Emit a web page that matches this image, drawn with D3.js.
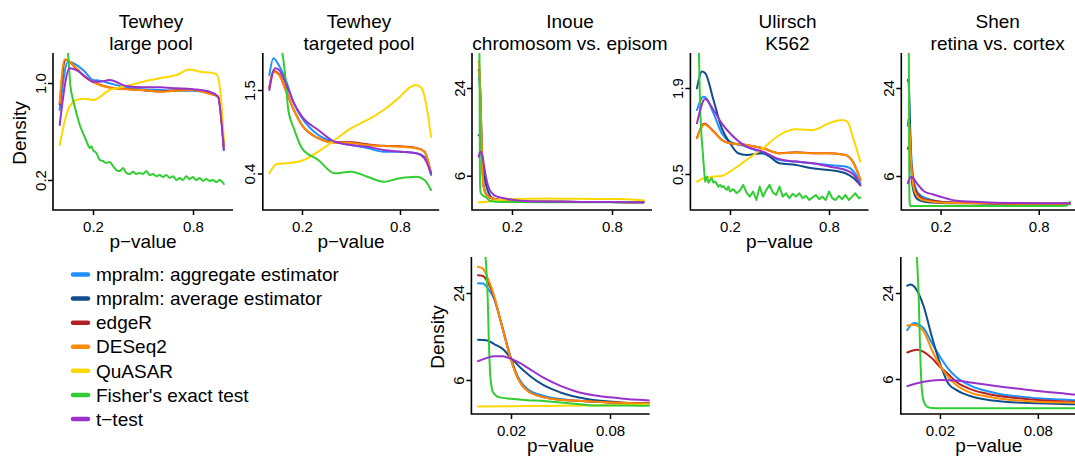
<!DOCTYPE html>
<html><head><meta charset="utf-8">
<script src="https://cdn.jsdelivr.net/npm/d3@7"></script>
<style>
html,body{margin:0;padding:0;background:#fff;}
svg{display:block;font-family:"Liberation Sans",Arial,Helvetica,sans-serif;}
</style></head><body>
<svg id="chart" width="1075" height="460"></svg>
<script>
// ---------- legend / methods ----------
const methods = ["mpralm: aggregate estimator","mpralm: average estimator","edgeR","DESeq2","QuASAR","Fisher's exact test","t\u2212test"];
const methodColors = ["#1E90FF","#104E8B","#B22222","#FF8C00","#FFD700","#32CD32","#9932CC"];

// ---------- tick labels ----------
const topXTicks = [0.2, 0.8];
const topXTickLabels = ["0.2", "0.8"];
const zoomXTicks = [0.02, 0.08];
const zoomXTickLabels = ["0.02", "0.08"];
const largePoolYTicks = [0.2, 1.0];
const largePoolYTickLabels = ["0.2", "1.0"];
const targetedYTicks = [0.4, 1.5];
const targetedYTickLabels = ["0.4", "1.5"];
const inoueYTicks = [6, 24];
const inoueYTickLabels = ["6", "24"];
const ulirschYTicks = [0.5, 1.9];
const ulirschYTickLabels = ["0.5", "1.9"];
const shenYTicks = [6, 24];
const shenYTickLabels = ["6", "24"];

// ---------- Tewhey large pool: [p-value, density] ----------
const lp_aggregate = [[0,0.64],[0.05,1.42],[0.1,1.35],[0.15,1.21],[0.2,1.05],[0.24,1.04],[0.3,0.995],[0.4,0.93],[0.5,0.90],[0.6,0.89],[0.7,0.88],[0.8,0.88],[0.9,0.843],[0.95,0.797],[0.985,0.33]];
const lp_edger = [[0,0.70],[0.035,1.47],[0.1,1.27],[0.15,1.11],[0.2,1.02],[0.3,0.93],[0.4,0.905],[0.5,0.885],[0.6,0.87],[0.7,0.885],[0.8,0.89],[0.9,0.84],[0.95,0.80],[0.985,0.35]];
const lp_deseq2 = [[0,0.72],[0.03,1.48],[0.1,1.28],[0.15,1.12],[0.2,1.02],[0.3,0.925],[0.4,0.90],[0.5,0.89],[0.6,0.866],[0.7,0.88],[0.8,0.89],[0.9,0.833],[0.95,0.797],[0.985,0.348]];
const lp_quasar = [[0,0.357],[0.05,0.64],[0.1,0.754],[0.15,0.771],[0.2,0.754],[0.3,0.89],[0.4,0.951],[0.5,1.022],[0.6,1.081],[0.7,1.142],[0.78,1.25],[0.85,1.2],[0.9,1.19],[0.94,1.16],[0.965,0.85],[0.985,0.39]];
const lp_fisher = [[0,8],[0.03,2.6],[0.05,1.65],[0.065,0.94],[0.08,0.76],[0.1,0.61],[0.12,0.5],[0.14,0.436],[0.165,0.37],[0.18,0.34],[0.19,0.35],[0.2,0.329],[0.22,0.313],[0.24,0.279],[0.26,0.274],[0.28,0.265],[0.3,0.27],[0.32,0.252],[0.34,0.236],[0.36,0.232],[0.38,0.244],[0.4,0.225],[0.42,0.221],[0.44,0.229],[0.46,0.221],[0.48,0.225],[0.5,0.221],[0.52,0.232],[0.54,0.217],[0.56,0.221],[0.58,0.213],[0.6,0.217],[0.62,0.21],[0.64,0.217],[0.66,0.207],[0.68,0.213],[0.7,0.2],[0.72,0.207],[0.74,0.2],[0.76,0.213],[0.78,0.203],[0.8,0.21],[0.82,0.2],[0.84,0.207],[0.86,0.197],[0.88,0.203],[0.9,0.197],[0.92,0.2],[0.94,0.193],[0.96,0.2],[0.985,0.187]];
const lp_ttest = [[0,0.498],[0.06,1.276],[0.1,1.241],[0.15,1.123],[0.2,1.022],[0.24,1.022],[0.3,1.051],[0.4,0.951],[0.5,0.931],[0.6,0.931],[0.7,0.916],[0.8,0.901],[0.9,0.866],[0.95,0.797],[0.985,0.329]];

// ---------- Tewhey targeted pool ----------
const tp_aggregate = [[0,1.90],[0.025,2.48],[0.06,2.2],[0.1,1.76],[0.15,1.22],[0.2,0.963],[0.3,0.736],[0.4,0.662],[0.5,0.628],[0.6,0.599],[0.7,0.565],[0.8,0.565],[0.9,0.551],[0.95,0.522],[0.99,0.391]];
const tp_edger = [[0,1.56],[0.025,2.03],[0.06,1.92],[0.1,1.5],[0.15,1.09],[0.2,0.86],[0.3,0.70],[0.4,0.655],[0.5,0.655],[0.6,0.635],[0.7,0.62],[0.8,0.615],[0.9,0.60],[0.95,0.565],[0.99,0.40]];
const tp_deseq2 = [[0,1.54],[0.025,2.0],[0.06,1.9],[0.1,1.5],[0.15,1.093],[0.2,0.862],[0.3,0.698],[0.4,0.651],[0.5,0.647],[0.6,0.628],[0.7,0.618],[0.8,0.611],[0.9,0.596],[0.95,0.565],[0.99,0.401]];
const tp_quasar = [[0,0.401],[0.046,0.465],[0.1,0.47],[0.2,0.49],[0.3,0.565],[0.4,0.68],[0.5,0.818],[0.6,0.933],[0.7,1.093],[0.8,1.349],[0.86,1.565],[0.9,1.624],[0.933,1.541],[0.963,1.152],[0.99,0.716]];
const tp_fisher = [[0,12],[0.04,5],[0.07,3],[0.08,2.68],[0.1,1.757],[0.116,1.093],[0.15,0.818],[0.2,0.596],[0.3,0.495],[0.4,0.401],[0.5,0.412],[0.6,0.38],[0.7,0.351],[0.8,0.371],[0.9,0.38],[0.95,0.361],[0.99,0.308]];
const tp_ttest = [[0,1.5],[0.035,2.115],[0.06,2.059],[0.1,1.668],[0.15,1.221],[0.2,0.983],[0.3,0.796],[0.4,0.662],[0.5,0.628],[0.6,0.611],[0.7,0.58],[0.8,0.565],[0.9,0.551],[0.95,0.509],[0.99,0.401]];

// ---------- Inoue chromosom vs. episom ----------
const in_aggregate = [[0,28],[0.003,27.9],[0.006,25.8],[0.01,21.5],[0.013,16.5],[0.016,12.4],[0.02,8.5],[0.025,6.07],[0.03,5.2],[0.04,4.66],[0.05,4.43],[0.06,4.31],[0.08,4.2],[0.1,4.13],[0.15,4.05],[0.2,4.0],[0.3,3.98],[0.5,3.97],[0.7,3.96],[0.9,3.95],[0.99,3.95]];
const in_average = [[0,11.4],[0.005,11.3],[0.01,10.6],[0.0154,9.75],[0.02,8.5],[0.0315,6.4],[0.04,5.5],[0.05,4.92],[0.066,4.43],[0.086,4.2],[0.1,4.15],[0.15,4.05],[0.2,4.0],[0.3,3.98],[0.5,3.97],[0.7,3.96],[0.9,3.95],[0.99,3.95]];
const in_edger = [[0,31.9],[0.003,31.5],[0.006,28.5],[0.01,22],[0.013,16.5],[0.016,12.2],[0.02,8.3],[0.025,5.9],[0.03,5.05],[0.04,4.55],[0.05,4.38],[0.06,4.31],[0.08,4.2],[0.1,4.13],[0.15,4.05],[0.2,4.0],[0.3,3.98],[0.5,3.97],[0.7,3.96],[0.9,3.95],[0.99,3.95]];
const in_deseq2 = [[0,36.4],[0.003,35.4],[0.006,30.3],[0.01,22.5],[0.013,16.5],[0.016,12.2],[0.02,8.3],[0.025,5.9],[0.03,5.05],[0.04,4.55],[0.05,4.38],[0.06,4.31],[0.08,4.2],[0.1,4.13],[0.15,4.05],[0.2,4.0],[0.3,3.98],[0.5,3.97],[0.7,3.96],[0.9,3.95],[0.99,3.95]];
const in_quasar = [[0,3.94],[0.05,3.98],[0.1,4.05],[0.2,4.15],[0.4,4.18],[0.6,4.16],[0.8,4.15],[0.9,4.14],[0.99,4.05]];
const in_fisher = [[0,90],[0.004,50],[0.006,20],[0.0065,12],[0.0073,6.8],[0.008,5.6],[0.0093,4.9],[0.013,4.55],[0.02,4.45],[0.03,4.35],[0.04,4.3],[0.05,4.2],[0.06,4.1],[0.07,4.0],[0.08,4.0],[0.1,3.98],[0.2,3.96],[0.4,3.95],[0.6,3.95],[0.8,3.95],[0.99,3.95]];
const in_ttest = [[0,8.1],[0.005,8.5],[0.01,8.77],[0.015,8.77],[0.02,8.4],[0.025,7.9],[0.03,7.3],[0.04,6.2],[0.05,5.46],[0.06,4.97],[0.07,4.7],[0.08,4.55],[0.09,4.43],[0.1,4.36],[0.15,4.2],[0.2,4.1],[0.3,4.0],[0.5,3.97],[0.7,3.96],[0.9,3.95],[0.99,3.95]];

// ---------- Ulirsch K562 ----------
const ul_aggregate = [[0,1.35],[0.04,1.66],[0.05,1.65],[0.1,1.283],[0.15,0.941],[0.2,0.827],[0.3,0.764],[0.4,0.69],[0.5,0.622],[0.6,0.606],[0.7,0.59],[0.8,0.575],[0.9,0.561],[0.95,0.519],[0.99,0.433]];
const ul_average = [[0,1.89],[0.03,2.45],[0.05,2.39],[0.1,1.577],[0.15,1.02],[0.2,0.806],[0.25,0.69],[0.3,0.672],[0.4,0.69],[0.5,0.59],[0.6,0.575],[0.7,0.546],[0.8,0.532],[0.9,0.506],[0.95,0.468],[0.99,0.42]];
const ul_edger = [[0,0.88],[0.045,1.09],[0.1,0.97],[0.15,0.85],[0.2,0.806],[0.3,0.785],[0.4,0.745],[0.5,0.69],[0.6,0.70],[0.7,0.69],[0.8,0.69],[0.9,0.672],[0.95,0.59],[0.99,0.456]];
const ul_deseq2 = [[0,0.87],[0.045,1.08],[0.1,0.964],[0.15,0.848],[0.2,0.806],[0.3,0.785],[0.4,0.745],[0.5,0.69],[0.6,0.697],[0.7,0.69],[0.8,0.69],[0.9,0.672],[0.95,0.59],[0.99,0.456]];
const ul_quasar = [[0,0.444],[0.04,0.468],[0.1,0.48],[0.15,0.485],[0.2,0.519],[0.3,0.622],[0.4,0.745],[0.5,0.916],[0.6,1.0],[0.7,0.99],[0.8,1.098],[0.88,1.156],[0.91,1.13],[0.95,0.848],[0.99,0.606]];
const ul_fisher = [[0,6],[0.01,4],[0.015,2.2],[0.02,1.3],[0.028,0.88],[0.035,0.7],[0.04,0.59],[0.045,0.5],[0.05,0.444],[0.06,0.48],[0.07,0.437],[0.08,0.456],[0.09,0.468],[0.1,0.437],[0.11,0.444],[0.12,0.429],[0.13,0.411],[0.14,0.422],[0.15,0.407],[0.16,0.415],[0.17,0.40],[0.18,0.391],[0.19,0.411],[0.2,0.381],[0.22,0.395],[0.24,0.371],[0.26,0.387],[0.28,0.422],[0.3,0.375],[0.32,0.352],[0.34,0.381],[0.36,0.334],[0.38,0.411],[0.4,0.352],[0.42,0.391],[0.44,0.422],[0.46,0.375],[0.48,0.361],[0.5,0.411],[0.52,0.352],[0.54,0.371],[0.56,0.343],[0.58,0.368],[0.6,0.352],[0.62,0.371],[0.64,0.343],[0.66,0.356],[0.68,0.334],[0.7,0.348],[0.72,0.361],[0.74,0.338],[0.76,0.352],[0.78,0.334],[0.8,0.381],[0.82,0.343],[0.84,0.334],[0.86,0.356],[0.88,0.338],[0.9,0.361],[0.92,0.334],[0.94,0.352],[0.96,0.371],[0.98,0.343],[0.99,0.348]];
const ul_ttest = [[0,1.098],[0.05,1.6],[0.1,1.35],[0.15,1.098],[0.2,0.941],[0.3,0.764],[0.4,0.708],[0.5,0.628],[0.6,0.606],[0.7,0.59],[0.8,0.561],[0.9,0.532],[0.95,0.493],[0.99,0.42]];

// ---------- Shen retina vs. cortex ----------
const sh_aggregate = [[0,13.2],[0.004,14.8],[0.01,13.6],[0.015,10.7],[0.02,8.59],[0.025,7.1],[0.03,6.2],[0.04,5.31],[0.05,4.9],[0.06,4.63],[0.07,4.51],[0.08,4.4],[0.09,4.33],[0.1,4.28],[0.15,4.1],[0.2,4.0],[0.3,3.95],[0.5,3.9],[0.7,3.88],[0.9,3.88],[0.99,3.88]];
const sh_average = [[0,27],[0.002,27.5],[0.005,26],[0.01,19.4],[0.015,11.9],[0.02,7.73],[0.025,5.6],[0.03,5.03],[0.04,4.51],[0.05,4.28],[0.06,4.16],[0.08,4.06],[0.1,4.0],[0.15,3.95],[0.2,3.92],[0.4,3.9],[0.6,3.88],[0.8,3.88],[0.99,3.88]];
const sh_edger = [[0,9.2],[0.006,9.6],[0.01,9.3],[0.015,8.4],[0.02,7.3],[0.025,6.5],[0.03,5.74],[0.04,5.03],[0.05,4.7],[0.06,4.51],[0.08,4.28],[0.1,4.16],[0.15,4.08],[0.2,4.0],[0.3,3.95],[0.5,3.9],[0.7,3.88],[0.9,3.88],[0.99,3.88]];
const sh_deseq2 = [[0,14.2],[0.004,14.4],[0.01,12.9],[0.015,9.58],[0.02,7.5],[0.025,6.2],[0.03,5.45],[0.04,4.76],[0.05,4.51],[0.06,4.33],[0.08,4.16],[0.1,4.1],[0.15,4.0],[0.2,3.95],[0.3,3.92],[0.5,3.9],[0.7,3.88],[0.9,3.88],[0.99,3.88]];
const sh_fisher = [[0,200],[0.004,80],[0.006,40],[0.007,22],[0.0078,10],[0.0088,5.2],[0.01,4.2],[0.012,3.85],[0.015,3.76],[0.02,3.74],[0.05,3.74],[0.1,3.74],[0.3,3.74],[0.5,3.74],[0.7,3.74],[0.9,3.74],[0.97,3.76],[0.99,4.0]];
const sh_ttest = [[0,5.35],[0.01,5.74],[0.02,5.9],[0.03,5.85],[0.04,5.65],[0.05,5.45],[0.06,5.26],[0.07,5.1],[0.08,4.95],[0.09,4.82],[0.1,4.7],[0.15,4.5],[0.2,4.33],[0.3,4.06],[0.5,3.96],[0.7,3.92],[0.9,3.9],[0.99,3.9]];

// series in legend order (null = method not shown)
const largePoolSeries = [lp_aggregate, null, lp_edger, lp_deseq2, lp_quasar, lp_fisher, lp_ttest];
const targetedSeries = [tp_aggregate, null, tp_edger, tp_deseq2, tp_quasar, tp_fisher, tp_ttest];
const inoueSeries = [in_aggregate, in_average, in_edger, in_deseq2, in_quasar, in_fisher, in_ttest];
const ulirschSeries = [ul_aggregate, ul_average, ul_edger, ul_deseq2, ul_quasar, ul_fisher, ul_ttest];
const shenSeries = [sh_aggregate, sh_average, sh_edger, sh_deseq2, null, sh_fisher, sh_ttest];

// ---------- layout ----------
const panels = [
  {series: largePoolSeries, title: ["Tewhey","large pool"], px: [53,233], py: [53,210], xDomain: [-0.04,1.04], xTicks: topXTicks, xLabels: topXTickLabels, yTicks: largePoolYTicks, yLabels: largePoolYTickLabels, yPx: [180,83], xlab: true, ylab: true, jagged: false},
  {series: targetedSeries, title: ["Tewhey","targeted pool"], px: [262.8,439.2], py: [53,210], xDomain: [-0.04,1.04], xTicks: topXTicks, xLabels: topXTickLabels, yTicks: targetedYTicks, yLabels: targetedYTickLabels, yPx: [173.5,90], xlab: true, ylab: false, jagged: false},
  {series: inoueSeries, title: ["Inoue","chromosom vs. episom"], px: [472,652], py: [53,210], xDomain: [-0.04,1.04], xTicks: topXTicks, xLabels: topXTickLabels, yTicks: inoueYTicks, yLabels: inoueYTickLabels, yPx: [175.7,88], xlab: false, ylab: false, jagged: false},
  {series: ulirschSeries, title: ["Ulirsch","K562"], px: [690.4,868.6], py: [53,210], xDomain: [-0.04,1.04], xTicks: topXTicks, xLabels: topXTickLabels, yTicks: ulirschYTicks, yLabels: ulirschYTickLabels, yPx: [174,88], xlab: true, ylab: false, jagged: true},
  {series: shenSeries, title: ["Shen","retina vs. cortex"], px: [901.3,1078], py: [53,210], xDomain: [-0.04,1.04], xTicks: topXTicks, xLabels: topXTickLabels, yTicks: shenYTicks, yLabels: shenYTickLabels, yPx: [176,88], xlab: false, ylab: false, jagged: false},
  {series: inoueSeries, title: null, px: [471.4,649.6], py: [257,414], xDomain: [-0.004,0.104], xTicks: zoomXTicks, xLabels: zoomXTickLabels, yTicks: inoueYTicks, yLabels: inoueYTickLabels, yPx: [380,293], xlab: true, ylab: true, jagged: false},
  {series: shenSeries, title: null, px: [900.8,1077], py: [257,414], xDomain: [-0.004,0.104], xTicks: zoomXTicks, xLabels: zoomXTickLabels, yTicks: shenYTicks, yLabels: shenYTickLabels, yPx: [379,293], xlab: true, ylab: false, jagged: false}
];

const svg = d3.select("#chart");
const defs = svg.append("defs");

panels.forEach((p, i) => {
  const x = d3.scaleLinear().domain(p.xDomain).range(p.px);
  const y = d3.scaleLog().domain(p.yTicks).range(p.yPx);
  const g = svg.append("g");
  const clipId = "clip" + i;
  defs.append("clipPath").attr("id", clipId).append("rect")
    .attr("x", p.px[0]).attr("y", p.py[0])
    .attr("width", p.px[1] - p.px[0]).attr("height", p.py[1] - p.py[0]);

  const smooth = d3.line().x(d => x(d[0])).y(d => y(d[1])).curve(d3.curveMonotoneX);
  const straight = d3.line().x(d => x(d[0])).y(d => y(d[1])).curve(d3.curveLinear);
  const lg = g.append("g").attr("clip-path", `url(#${clipId})`);
  p.series.forEach((s, k) => {
    if (!s) return;
    const gen = (p.jagged && k === 5) ? straight : smooth;
    lg.append("path").datum(s).attr("d", gen)
      .attr("fill", "none").attr("stroke", methodColors[k])
      .attr("stroke-width", 2).attr("stroke-linejoin", "round").attr("stroke-linecap", "round");
  });

  // x axis
  const xa = g.append("g").attr("transform", `translate(0,${p.py[1]})`)
    .call(d3.axisBottom(x).tickValues(p.xTicks).tickFormat((d, j) => p.xLabels[j]).tickSize(5).tickPadding(6.4));
  xa.select(".domain").remove();
  xa.selectAll("line").attr("stroke", "#000").attr("stroke-width", 1.5);
  xa.selectAll("text").attr("font-size", 15).attr("fill", "#000").attr("font-family", null);

  // y axis
  const ya = g.append("g").attr("transform", `translate(${p.px[0]},0)`)
    .call(d3.axisLeft(y).tickValues(p.yTicks).tickFormat((d, j) => p.yLabels[j]).tickSize(5));
  ya.select(".domain").remove();
  ya.selectAll("line").attr("stroke", "#000").attr("stroke-width", 1.5);
  ya.selectAll("text").attr("font-size", 15).attr("fill", "#000").attr("font-family", null)
    .attr("x", null).attr("dy", null).attr("text-anchor", "middle")
    .attr("transform", "translate(-7.5,0) rotate(-90)");

  // L-shaped box
  g.append("path")
    .attr("d", `M${p.px[0]},${p.py[0]}V${p.py[1]}H${p.px[1]}`)
    .attr("fill", "none").attr("stroke", "#000").attr("stroke-width", 1.6);

  const cx = (p.px[0] + p.px[1]) / 2;
  if (p.title) {
    g.append("text").attr("x", cx + 8).attr("y", 27.5).attr("text-anchor", "middle")
      .attr("font-size", 19).text(p.title[0]);
    g.append("text").attr("x", cx + 8).attr("y", 50).attr("text-anchor", "middle")
      .attr("font-size", 19).text(p.title[1]);
  }
  if (p.xlab) {
    g.append("text").attr("x", cx).attr("y", p.py[1] + 38).attr("text-anchor", "middle")
      .attr("font-size", 19).text("p\u2212value");
  }
  if (p.ylab) {
    const cy = (p.py[0] + p.py[1]) / 2 + 1.5;
    g.append("text").attr("transform", `translate(${p.px[0] - 27},${cy}) rotate(-90)`)
      .attr("text-anchor", "middle").attr("font-size", 19).text("Density");
  }
});

// legend
const legendY = d3.scaleLinear().domain([0, methods.length - 1]).range([274.5, 419]);
const leg = svg.append("g");
methods.forEach((m, k) => {
  const yy = legendY(k);
  leg.append("line").attr("x1", 73).attr("x2", 88).attr("y1", yy).attr("y2", yy)
    .attr("stroke", methodColors[k]).attr("stroke-width", 4.5).attr("stroke-linecap", "round");
  leg.append("text").attr("x", 96).attr("y", yy + 6.7).attr("font-size", 19).text(m);
});
</script>
</body></html>
